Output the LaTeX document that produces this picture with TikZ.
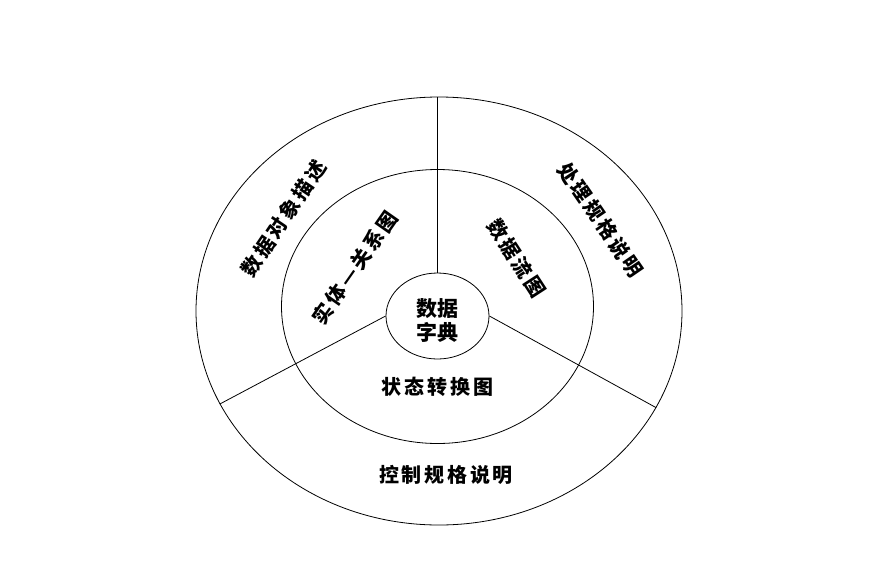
\documentclass[tikz,border=0pt]{standalone}
\usepackage{fontspec}
\usetikzlibrary{shapes.geometric}
\newfontfamily\cjk[LetterSpace=14]{Noto Sans CJK SC}
\newfontfamily\cjkc{Noto Sans CJK SC}
\tikzset{
  ring/.style={draw, ellipse, line width=0.8pt, inner sep=0pt},
  sep/.style={line width=0.8pt},
  lab/.style={font=\cjk\bfseries\fontsize{20}{23}\selectfont, inner sep=0pt},
}
\begin{document}
\begin{tikzpicture}[x=1pt,y=-1pt]
\useasboundingbox (0,0) rectangle (881,571);
\node[ring, minimum width=486pt, minimum height=428pt] (outer) at (439,311) {};
\node[ring, minimum width=312pt, minimum height=274pt] (middle) at (437.5,306.5) {};
\node[ring, minimum width=103pt, minimum height=86pt] (dict) at (437.5,316) {};
\node[font=\cjkc\bfseries\fontsize{21}{24}\selectfont, align=center, inner sep=0pt] (dtext) at (437,320) {数据\\字典};
\coordinate (top) at (dict.north |- outer.north);
\draw[sep] (dict.north) -- (top);
\draw[sep] (dict.west) -- (outer.203.2);
\draw[sep] (dict.east) -- (outer.336.7);
\node[lab, rotate=56] (l1) at (283.5,218.5) {数据对象描述};
\node[lab, rotate=55] (l2) at (355,267.5) {实体—关系图};
\node[lab, rotate=-57] (l3) at (516.5,258.5) {数据流图};
\node[lab, rotate=-55.5] (l4) at (600.5,220) {处理规格说明};
\node[lab] (l5) at (437.5,387) {状态转换图};
\node[lab] (l6) at (446,475) {控制规格说明};
\end{tikzpicture}
\end{document}
